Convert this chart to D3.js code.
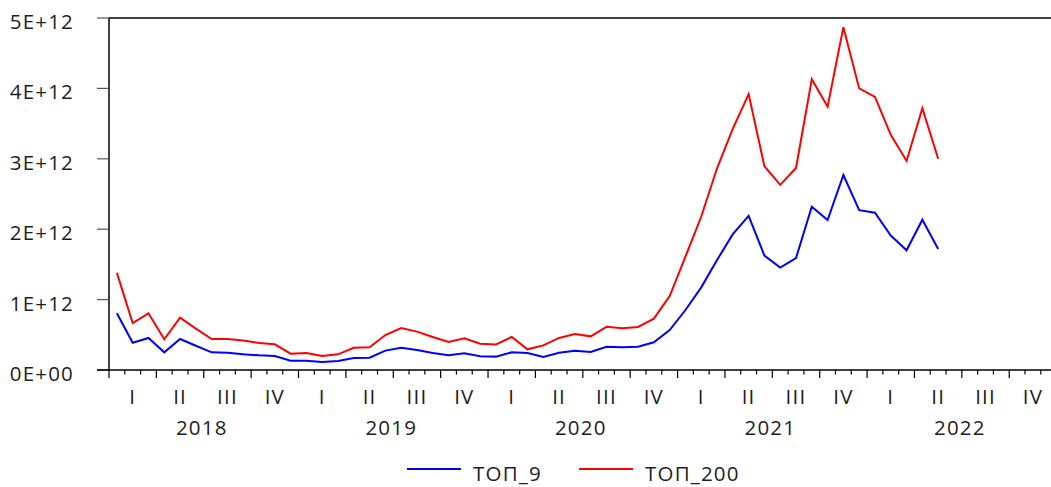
<!DOCTYPE html>
<html>
<head>
<meta charset="utf-8">
<script src="https://cdn.jsdelivr.net/npm/d3@7"></script>
<style>
  body { margin: 0; background: #fff; }
  svg { display: block; font-family: 'Open Sans', sans-serif; }
  text { fill: #1e1e1e; font-size: 20.5px; letter-spacing: 1.2px; }
</style>
</head>
<body>
<div id="chart"></div>
<script>
const years = ['2018', '2019', '2020', '2021', '2022'];
const quarters = ['I', 'II', 'III', 'IV'];
const yTicks = [0, 1e12, 2e12, 3e12, 4e12, 5e12];
const yTickLabels = ['0E+00', '1E+12', '2E+12', '3E+12', '4E+12', '5E+12'];

// monthly values, Jan 2018 .. May 2022
const top9 = [
  0.805, 0.388, 0.455, 0.251, 0.44, 0.345, 0.251, 0.246, 0.223, 0.208, 0.199, 0.133,
  0.133, 0.114, 0.128, 0.17, 0.175, 0.275, 0.317, 0.284, 0.241, 0.208, 0.237, 0.194,
  0.19, 0.251, 0.241, 0.185, 0.246, 0.275, 0.256, 0.331, 0.322, 0.331, 0.393, 0.568,
  0.852, 1.174, 1.5625, 1.93, 2.19, 1.625, 1.455, 1.59, 2.32, 2.13, 2.77, 2.27,
  2.235, 1.91, 1.70, 2.135, 1.72
].map(v => v * 1e12);
const top200 = [
  1.38, 0.667, 0.805, 0.436, 0.743, 0.587, 0.44, 0.44, 0.42, 0.384, 0.365, 0.232,
  0.241, 0.199, 0.223, 0.315, 0.322, 0.497, 0.597, 0.545, 0.469, 0.398, 0.45, 0.374,
  0.364, 0.469, 0.294, 0.35, 0.455, 0.511, 0.478, 0.613, 0.592, 0.611, 0.729, 1.051,
  1.61, 2.18, 2.865, 3.43, 3.92, 2.895, 2.63, 2.87, 4.13, 3.74, 4.87, 4.0,
  3.88, 3.34, 2.97, 3.72, 3.0
].map(v => v * 1e12);
const seriesNames = ['ТОП_9', 'ТОП_200'];
const seriesColors = ['#0000ff', '#ff0000'];

const width = 1051, height = 487;
const margin = { top: 18, left: 109, bottom: 117 };
const plotBottom = height - margin.bottom;
const nMonths = years.length * 12;

const x = d3.scaleLinear().domain([0, nMonths]).range([margin.left, 1056.6]);
const y = d3.scaleLinear().domain([0, 5e12]).range([plotBottom, margin.top]);

const svg = d3.select('#chart').append('svg')
  .attr('width', width)
  .attr('height', height);

// frame: left axis line and top line
svg.append('line')
  .attr('x1', margin.left).attr('x2', width)
  .attr('y1', margin.top).attr('y2', margin.top)
  .attr('stroke', '#000').attr('stroke-width', 1.5);
svg.append('line')
  .attr('x1', margin.left).attr('x2', margin.left)
  .attr('y1', margin.top).attr('y2', plotBottom)
  .attr('stroke', '#000').attr('stroke-width', 1.5);

// y axis ticks & labels
let yg = svg.append('g');
yg.selectAll('line').data(yTicks).join('line')
  .attr('x1', margin.left - 12).attr('x2', margin.left)
  .attr('y1', d => y(d)).attr('y2', d => y(d))
  .attr('stroke', '#555').attr('stroke-width', 1.2);
yg.selectAll('text').data(yTicks).join('text')
  .attr('x', 74)
  .attr('y', d => y(d) + 11)
  .attr('text-anchor', 'end')
  .text((d, i) => yTickLabels[i]);

// x axis line
svg.append('line')
  .attr('x1', margin.left - 12).attr('x2', width)
  .attr('y1', plotBottom).attr('y2', plotBottom)
  .attr('stroke', '#000').attr('stroke-width', 1.5);

// month ticks (longer on quarter boundaries)
let xg = svg.append('g');
xg.selectAll('line').data(d3.range(0, nMonths + 1)).join('line')
  .attr('x1', d => x(d)).attr('x2', d => x(d))
  .attr('y1', plotBottom)
  .attr('y2', d => plotBottom + (d % 3 === 0 ? 8 : 4.5))
  .attr('stroke', '#000').attr('stroke-width', 1.2);

// quarter labels
const qData = d3.range(years.length * 4);
xg.selectAll('text.q').data(qData).join('text')
  .attr('class', 'q')
  .attr('x', d => x(d * 3 + 1.5))
  .attr('y', 404)
  .attr('text-anchor', 'middle')
  .text(d => quarters[d % 4]);

// year labels
xg.selectAll('text.yr').data(years).join('text')
  .attr('class', 'yr')
  .attr('x', (d, i) => x(i * 12 + 6) - 2)
  .attr('y', 435)
  .attr('text-anchor', 'middle')
  .text(d => d);

// lines
const line = d3.line()
  .x((d, i) => x(i + 0.5))
  .y(d => y(d));

[top9, top200].forEach((s, k) => {
  svg.append('path')
    .datum(s)
    .attr('fill', 'none')
    .attr('stroke', seriesColors[k])
    .attr('stroke-width', 2)
    .attr('stroke-linejoin', 'miter')
    .attr('d', line);
});

// legend
const legendX = [407, 579];
let lg = svg.append('g');
seriesNames.forEach((name, k) => {
  lg.append('line')
    .attr('x1', legendX[k]).attr('x2', legendX[k] + 54)
    .attr('y1', 469).attr('y2', 469)
    .attr('stroke', seriesColors[k]).attr('stroke-width', 2);
  lg.append('text')
    .attr('x', legendX[k] + 66)
    .attr('y', 481)
    .text(name);
});
</script>
</body>
</html>
